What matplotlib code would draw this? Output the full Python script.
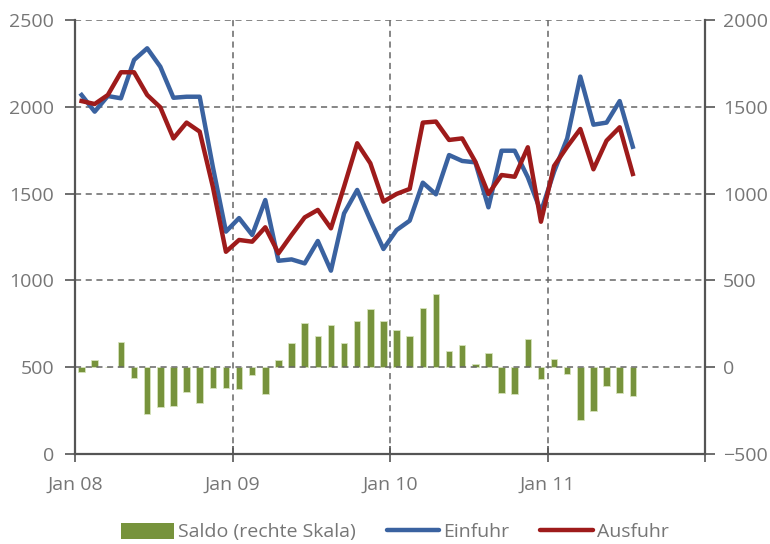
import matplotlib
matplotlib.use("Agg")
import matplotlib.pyplot as plt
from matplotlib.patches import Patch
from matplotlib.lines import Line2D

plt.rcParams['font.family'] = ['Open Sans', 'DejaVu Sans']

# monthly values Jan 08 - Jul 11
einfuhr = [2068, 1972, 2062, 2049, 2270, 2337, 2231, 2052, 2058, 2058, 1655, 1281,
           1359, 1262, 1463, 1113, 1121, 1098, 1227, 1056, 1386, 1521, 1348, 1181,
           1290, 1344, 1563, 1496, 1722, 1688, 1680, 1421, 1747, 1747, 1594, 1396,
           1626, 1818, 2174, 1897, 1909, 2033, 1770]
ausfuhr = [2033, 2016, 2068, 2199, 2199, 2068, 1997, 1818, 1909, 1857, 1540, 1165,
           1233, 1223, 1306, 1156, 1262, 1363, 1406, 1300, 1540, 1790, 1675, 1454,
           1498, 1527, 1909, 1915, 1809, 1818, 1684, 1498, 1607, 1597, 1767, 1338,
           1659, 1770, 1872, 1640, 1805, 1882, 1613]
saldo = [-29, 41, 3, 147, -64, -270, -231, -223, -145, -208, -118, -118,
         -127, -47, -153, 41, 137, 253, 180, 243, 137, 268, 333, 268,
         214, 180, 339, 420, 93, 126, 20, 84, -147, -154, 162, -66,
         47, -41, -304, -250, -108, -147, -164]
year_labels = ["Jan 08", "Jan 09", "Jan 10", "Jan 11", ""]

months = list(range(len(einfuhr)))
grey = "#555555"
txt = "#767676"

fig = plt.figure(figsize=(7.7, 5.44), dpi=100)
ax = fig.add_axes([75/770, 90/544, 630/770, 434/544])
ax2 = ax.twinx()

ax2.bar(months, saldo, width=0.5, color="#77933C", edgecolor="#d6e3bc", linewidth=0.6)
ax.plot(months, einfuhr, color="#3A62A0", lw=3.2, solid_joinstyle="round")
ax.plot(months, ausfuhr, color="#9E1B1B", lw=3.2, solid_joinstyle="round")

ax.set_zorder(2)
ax.patch.set_visible(False)

ax.set_xlim(-0.5, 47.5)
ax.set_ylim(0, 2500)
ax2.set_ylim(-500, 2000)
ax.set_yticks([0, 500, 1000, 1500, 2000, 2500])
ax2.set_yticks([-500, 0, 500, 1000, 1500, 2000])
ax.set_xticks([-0.5, 11.5, 23.5, 35.5, 47.5])
ax.set_xticklabels(year_labels)

for a in (ax, ax2):
    for s in a.spines.values():
        s.set_color(grey)
        s.set_linewidth(1.6)
    a.spines['top'].set_visible(False)
ax.spines['right'].set_visible(False)
ax2.spines['left'].set_visible(False)
ax2.spines['bottom'].set_visible(False)

ax.yaxis.grid(True, linestyle=(0, (4, 3)), color="#666666", lw=1.1)
for xv in [11.5, 23.5, 35.5]:
    ax.axvline(xv, linestyle=(0, (4, 3)), color="#666666", lw=1.1, zorder=0.5)

ax.tick_params(axis='y', length=7, width=1.2, color=grey, labelcolor=txt, labelsize=14, pad=8)
ax2.tick_params(axis='y', length=7, width=1.2, color=grey, labelcolor=txt, labelsize=14, pad=6)
ax.tick_params(axis='x', direction='inout', length=12, width=1.2, color=grey,
               labelcolor=txt, labelsize=14, pad=10)

handles = [Patch(facecolor="#77933C", edgecolor="none"),
           Line2D([], [], color="#3A62A0", lw=3.2, solid_capstyle="round"),
           Line2D([], [], color="#9E1B1B", lw=3.2, solid_capstyle="round")]
leg = fig.legend(handles, ["Saldo (rechte Skala)", "Einfuhr", "Ausfuhr"],
                 loc="center", bbox_to_anchor=(0.513, 0.022), ncol=3, frameon=False,
                 fontsize=14, handlelength=2.7, handleheight=0.9, handletextpad=0.2,
                 columnspacing=1.6)
for t in leg.get_texts():
    t.set_color(txt)

fig.savefig("out.png", dpi=100)
